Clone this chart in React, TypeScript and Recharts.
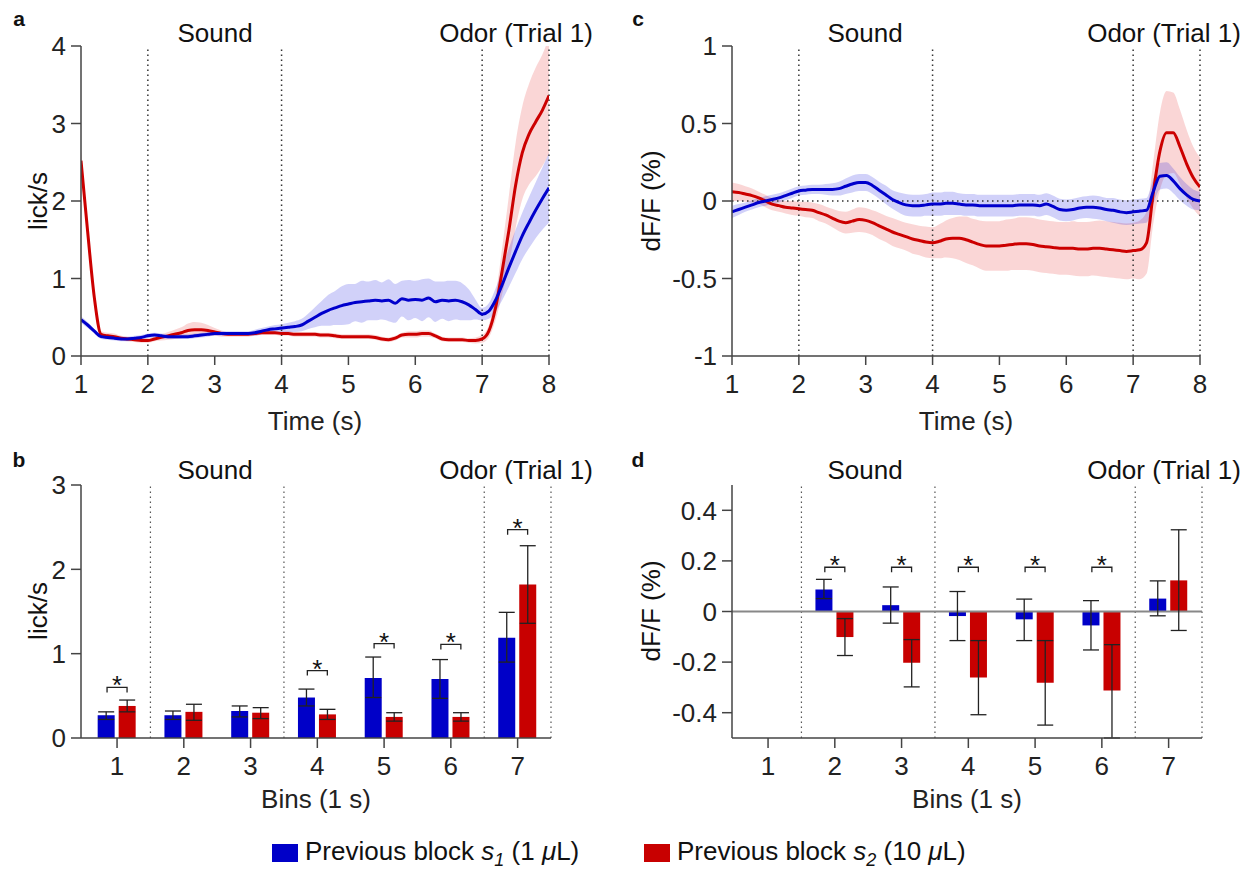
import React from 'react';
import {
  ComposedChart, Line, Area, Bar, ErrorBar, Scatter, XAxis, YAxis, ReferenceLine,
} from 'recharts';

// ---------- Data ----------
const TIME = [1.0,1.1,1.2,1.3,1.4,1.5,1.6,1.7,1.8,1.9,2.0,2.1,2.2,2.3,2.4,2.5,2.6,2.7,2.8,2.9,3.0,3.1,3.2,3.3,3.4,3.5,3.6,3.7,3.8,3.9,4.0,4.1,4.2,4.3,4.4,4.5,4.6,4.7,4.8,4.9,5.0,5.1,5.2,5.3,5.4,5.5,5.6,5.7,5.8,5.9,6.0,6.1,6.2,6.3,6.4,6.5,6.6,6.7,6.8,6.9,7.0,7.1,7.2,7.3,7.4,7.5,7.6,7.7,7.8,7.9,8.0];

const lickRedMean = [2.52,1.60,0.75,0.28,0.26,0.25,0.23,0.22,0.21,0.20,
  0.20,0.22,0.24,0.26,0.28,0.30,0.33,0.34,0.34,0.33,
  0.31,0.29,0.28,0.28,0.28,0.28,0.29,0.30,0.30,0.30,
  0.29,0.29,0.28,0.28,0.28,0.28,0.27,0.27,0.26,0.25,
  0.25,0.25,0.25,0.25,0.24,0.22,0.21,0.23,0.27,0.28,
  0.28,0.29,0.29,0.26,0.22,0.21,0.21,0.21,0.20,0.20,
  0.22,0.32,0.62,1.10,1.62,2.20,2.62,2.86,3.02,3.17,
  3.36];
const lickRedSem = [0.15,0.10,0.06,0.04,0.04,0.04,0.03,0.03,0.03,0.03,
  0.03,0.03,0.04,0.05,0.06,0.07,0.09,0.10,0.09,0.07,
  0.05,0.04,0.03,0.03,0.03,0.03,0.03,0.03,0.03,0.03,
  0.03,0.03,0.03,0.03,0.03,0.03,0.03,0.03,0.03,0.03,
  0.03,0.03,0.03,0.03,0.03,0.03,0.03,0.03,0.03,0.04,
  0.04,0.04,0.04,0.03,0.03,0.03,0.03,0.03,0.03,0.04,
  0.05,0.08,0.16,0.30,0.45,0.55,0.60,0.65,0.70,0.72,
  0.75];
const lickBlueMean = [0.47,0.40,0.32,0.25,0.24,0.23,0.22,0.22,0.23,0.24,
  0.26,0.27,0.26,0.25,0.25,0.25,0.25,0.26,0.27,0.28,
  0.29,0.29,0.29,0.29,0.29,0.29,0.30,0.32,0.34,0.35,
  0.36,0.37,0.38,0.40,0.45,0.50,0.55,0.59,0.62,0.65,
  0.67,0.69,0.70,0.71,0.72,0.71,0.72,0.68,0.74,0.72,
  0.73,0.72,0.75,0.70,0.72,0.71,0.72,0.70,0.66,0.60,
  0.54,0.58,0.72,0.92,1.14,1.35,1.55,1.72,1.88,2.03,
  2.17];
const lickBlueSem = [0.04,0.04,0.03,0.03,0.03,0.03,0.03,0.03,0.03,0.03,
  0.03,0.03,0.03,0.03,0.03,0.03,0.03,0.03,0.03,0.03,
  0.03,0.03,0.03,0.03,0.03,0.03,0.04,0.04,0.04,0.05,
  0.05,0.06,0.07,0.08,0.10,0.13,0.16,0.20,0.22,0.25,
  0.26,0.24,0.27,0.25,0.26,0.24,0.27,0.25,0.23,0.26,
  0.24,0.27,0.25,0.26,0.24,0.26,0.25,0.24,0.20,0.13,
  0.08,0.10,0.15,0.20,0.25,0.28,0.30,0.33,0.36,0.40,
  0.45];

const dffBlueMean = [-0.07,-0.055,-0.04,-0.025,-0.01,0.00,0.01,0.02,0.035,0.05,
  0.065,0.07,0.075,0.075,0.075,0.075,0.08,0.095,0.11,0.12,
  0.12,0.10,0.07,0.04,0.01,-0.01,-0.025,-0.03,-0.03,-0.025,
  -0.02,-0.02,-0.015,-0.015,-0.02,-0.025,-0.025,-0.03,-0.03,-0.03,
  -0.03,-0.03,-0.03,-0.025,-0.025,-0.025,-0.03,-0.02,-0.035,-0.055,
  -0.06,-0.055,-0.045,-0.04,-0.04,-0.045,-0.055,-0.06,-0.07,-0.075,
  -0.07,-0.065,-0.06,0.06,0.16,0.165,0.13,0.08,0.04,0.01,
  0.00];
const dffBlueSem = [0.04,0.035,0.03,0.03,0.03,0.03,0.03,0.03,0.03,0.03,
  0.03,0.03,0.03,0.03,0.035,0.04,0.045,0.05,0.055,0.055,
  0.055,0.055,0.055,0.06,0.06,0.065,0.07,0.07,0.07,0.07,
  0.075,0.075,0.075,0.075,0.07,0.07,0.07,0.07,0.07,0.07,
  0.07,0.07,0.07,0.07,0.07,0.07,0.07,0.07,0.07,0.07,
  0.07,0.07,0.07,0.07,0.075,0.075,0.075,0.08,0.08,0.08,
  0.08,0.08,0.08,0.08,0.085,0.085,0.08,0.075,0.07,0.065,
  0.06];
const dffRedMean = [0.06,0.055,0.045,0.035,0.02,0.00,-0.02,-0.03,-0.04,-0.045,
  -0.05,-0.055,-0.06,-0.075,-0.09,-0.11,-0.13,-0.14,-0.13,-0.12,
  -0.125,-0.14,-0.16,-0.18,-0.20,-0.215,-0.23,-0.245,-0.255,-0.265,
  -0.27,-0.26,-0.245,-0.24,-0.24,-0.25,-0.265,-0.28,-0.29,-0.29,
  -0.29,-0.285,-0.28,-0.275,-0.275,-0.28,-0.29,-0.295,-0.30,-0.305,
  -0.305,-0.305,-0.31,-0.31,-0.305,-0.305,-0.31,-0.315,-0.32,-0.325,
  -0.32,-0.315,-0.27,0.05,0.32,0.44,0.44,0.35,0.24,0.15,
  0.09];
const dffRedSem = [0.06,0.055,0.05,0.045,0.04,0.04,0.04,0.04,0.04,0.045,
  0.045,0.05,0.05,0.055,0.055,0.06,0.065,0.07,0.075,0.08,
  0.08,0.08,0.085,0.085,0.09,0.09,0.09,0.095,0.095,0.1,
  0.1,0.11,0.12,0.13,0.14,0.15,0.15,0.155,0.16,0.16,
  0.16,0.165,0.165,0.17,0.17,0.17,0.17,0.17,0.17,0.17,
  0.17,0.175,0.175,0.175,0.175,0.18,0.18,0.18,0.18,0.18,
  0.18,0.19,0.2,0.2,0.25,0.27,0.26,0.24,0.22,0.2,
  0.19];

const BINS = [1, 2, 3, 4, 5, 6, 7];
const lickBinBlue = [0.27, 0.27, 0.32, 0.48, 0.71, 0.70, 1.19];
const lickBinBlueLo = [0.22, 0.22, 0.25, 0.38, 0.48, 0.47, 0.90];
const lickBinBlueHi = [0.31, 0.32, 0.38, 0.58, 0.96, 0.93, 1.49];
const lickBinRed = [0.38, 0.31, 0.30, 0.28, 0.25, 0.25, 1.82];
const lickBinRedLo = [0.31, 0.21, 0.23, 0.22, 0.20, 0.20, 1.36];
const lickBinRedHi = [0.45, 0.40, 0.36, 0.34, 0.30, 0.30, 2.28];
const lickSigBins = [1, 4, 5, 6, 7];
const lickSigLevels = [0.6, 0.8, 1.12, 1.11, 2.47];

const dffBinBlue = [0, 0.087, 0.025, -0.018, -0.031, -0.055, 0.051];
const dffBinBlueLo = [0, 0.051, -0.046, -0.115, -0.115, -0.152, -0.017];
const dffBinBlueHi = [0, 0.127, 0.097, 0.079, 0.049, 0.043, 0.121];
const dffBinRed = [0, -0.101, -0.203, -0.261, -0.282, -0.312, 0.123];
const dffBinRedLo = [0, -0.174, -0.298, -0.408, -0.449, -0.5, -0.075];
const dffBinRedHi = [0, -0.028, -0.111, -0.115, -0.115, -0.131, 0.323];
const dffSigBins = [2, 3, 4, 5, 6];
const dffSigLevels = [0.175, 0.175, 0.175, 0.175, 0.175];

const TIME_TICKS = [1, 2, 3, 4, 5, 6, 7, 8];
const EVENT_LINES = [2, 4, 7, 8];
const BIN_LINES = [1.5, 3.5, 6.5, 7.5];
const LICK_TICKS = [0, 1, 2, 3, 4];
const DFF_TICKS = [-1, -0.5, 0, 0.5, 1];
const LICKBIN_TICKS = [0, 1, 2, 3];
const DFFBIN_TICKS = [-0.4, -0.2, 0, 0.2, 0.4];

// ---------- Styles ----------
const FONT = "'Liberation Sans', Arial, Helvetica, sans-serif";
const BLUE = '#0000cc';
const RED = '#cc0000';
const AXIS = '#444';
const TICK = { fontSize: 26, fill: '#222', fontFamily: FONT };

const buildSeries = (bm: number[], bs: number[], rm: number[], rs: number[]) =>
  TIME.map((t, i) => ({
    t,
    blue: bm[i],
    red: rm[i],
    blueBand: [bm[i] - bs[i], bm[i] + bs[i]],
    redBand: [rm[i] - rs[i], rm[i] + rs[i]],
  }));

const buildBins = (b: number[], bl: number[], bh: number[], r: number[], rl: number[], rh: number[]) =>
  BINS.map((bin, i) => ({
    bin,
    blue: b[i],
    red: r[i],
    blueErr: [b[i] - bl[i], bh[i] - b[i]],
    redErr: [r[i] - rl[i], rh[i] - r[i]],
  }));

const lickSeries = buildSeries(lickBlueMean, lickBlueSem, lickRedMean, lickRedSem);
const dffSeries = buildSeries(dffBlueMean, dffBlueSem, dffRedMean, dffRedSem);
const lickBins = buildBins(lickBinBlue, lickBinBlueLo, lickBinBlueHi, lickBinRed, lickBinRedLo, lickBinRedHi);
const dffBins = buildBins(dffBinBlue, dffBinBlueLo, dffBinBlueHi, dffBinRed, dffBinRedLo, dffBinRedHi);
const lickSig = lickSigBins.map((bin, i) => ({ bin, y: lickSigLevels[i] }));
const dffSig = dffSigBins.map((bin, i) => ({ bin, y: dffSigLevels[i] }));

const SigMark = (props: any) => {
  const { cx, cy } = props;
  if (cx == null || cy == null) return <g />;
  const hw = 10;
  return (
    <g>
      <path d={`M${cx - hw},${cy + 5} L${cx - hw},${cy} L${cx + hw},${cy} L${cx + hw},${cy + 5}`}
        stroke="#222" strokeWidth={1.3} fill="none" />
      <text x={cx} y={cy + 7} textAnchor="middle" fontSize={26} fontFamily={FONT} fill="#111">*</text>
    </g>
  );
};

const Txt = ({ x, y, children, size = 26, rotate = false, bold = false }: any) => (
  <div style={{
    position: 'absolute', left: x, top: y, whiteSpace: 'nowrap',
    transform: `translate(-50%, -50%)${rotate ? ' rotate(-90deg)' : ''}`,
    fontSize: size, fontWeight: bold ? 'bold' : 'normal', color: '#111', lineHeight: 1,
  }}>{children}</div>
);

const dotted = { stroke: '#333', strokeWidth: 1.5, strokeDasharray: '1.5 3.5' };

const TimePanel = ({ data, left, yDomain, yTicks, yWidth, zeroLine }: any) => (
  <div style={{ position: 'absolute', left, top: 0 }}>
    <ComposedChart width={yWidth + 468 + 51} height={440} data={data}
      margin={{ top: 46, right: 51, bottom: 0, left: 0 }}>
      <XAxis dataKey="t" type="number" domain={[1, 8]} ticks={TIME_TICKS} interval={0}
        allowDataOverflow height={84} tickSize={9} tickMargin={10}
        stroke={AXIS} strokeWidth={1.5} tick={TICK} tickLine={{ stroke: AXIS, strokeWidth: 1.5 }}
        label={{ value: 'Time (s)', position: 'insideBottom', offset: 10, fontSize: 26, fill: '#222' }} />
      <YAxis type="number" domain={yDomain} ticks={yTicks} interval={0} allowDataOverflow
        width={yWidth} tickSize={10} tickMargin={5} stroke={AXIS} strokeWidth={1.5} tick={TICK}
        tickLine={{ stroke: AXIS, strokeWidth: 1.5 }} />
      {EVENT_LINES.map((x) => <ReferenceLine key={x} x={x} {...dotted} />)}
      {zeroLine && <ReferenceLine y={0} {...dotted} />}
      <Area dataKey="redBand" type="monotone" stroke="none" fill="#e00000" fillOpacity={0.16}
        isAnimationActive={false} />
      <Area dataKey="blueBand" type="monotone" stroke="none" fill="#0000e0" fillOpacity={0.18}
        isAnimationActive={false} />
      <Line dataKey="red" type="monotone" stroke={RED} strokeWidth={3} dot={false} isAnimationActive={false} />
      <Line dataKey="blue" type="monotone" stroke={BLUE} strokeWidth={3} dot={false} isAnimationActive={false} />
    </ComposedChart>
  </div>
);

const BinPanel = ({ data, sig, left, yDomain, yTicks, yWidth, zeroLine }: any) => (
  <div style={{ position: 'absolute', left, top: 440 }}>
    <ComposedChart width={yWidth + 470 + 49} height={380} data={data}
      margin={{ top: 45, right: 49, bottom: 0, left: 0 }}>
      <XAxis dataKey="bin" type="number" domain={[0.46, 7.5]} ticks={BINS} interval={0}
        allowDataOverflow height={82} tickSize={10} tickMargin={9}
        stroke={AXIS} strokeWidth={1.5} tick={TICK} tickLine={{ stroke: AXIS, strokeWidth: 1.5 }}
        label={{ value: 'Bins (1 s)', position: 'insideBottom', offset: 12, fontSize: 26, fill: '#222' }} />
      <YAxis type="number" domain={yDomain} ticks={yTicks} interval={0} allowDataOverflow
        width={yWidth} tickSize={10} tickMargin={5} stroke={AXIS} strokeWidth={1.5} tick={TICK}
        tickLine={{ stroke: AXIS, strokeWidth: 1.5 }} />
      {BIN_LINES.map((x) => <ReferenceLine key={x} x={x} {...dotted} strokeWidth={1.2} stroke="#555" />)}
      {zeroLine && <ReferenceLine y={0} stroke="#888" strokeWidth={1.8} />}
      <Bar dataKey="blue" fill="#0000c8" barSize={17} isAnimationActive={false}>
        <ErrorBar dataKey="blueErr" width={8} stroke="#222" strokeWidth={1.3} direction="y" />
      </Bar>
      <Bar dataKey="red" fill="#c80000" barSize={17} isAnimationActive={false}>
        <ErrorBar dataKey="redErr" width={8} stroke="#222" strokeWidth={1.3} direction="y" />
      </Bar>
      <Scatter data={sig} dataKey="y" shape={SigMark} isAnimationActive={false} />
    </ComposedChart>
  </div>
);

const subStyle: React.CSSProperties = { fontSize: 18, fontStyle: 'italic', position: 'relative', top: 6 };

export default function App() {
  return (
    <div style={{ position: 'absolute', left: 0, top: 0, width: 1249, height: 869, background: '#fff',
      fontFamily: FONT, color: '#111', overflow: 'hidden' }}>
      <TimePanel data={lickSeries} left={0} yDomain={[0, 4]} yTicks={LICK_TICKS} yWidth={81} />
      <TimePanel data={dffSeries} left={620} yDomain={[-1, 1]} yTicks={DFF_TICKS} yWidth={112} zeroLine />
      <BinPanel data={lickBins} sig={lickSig} left={0} yDomain={[0, 3]} yTicks={LICKBIN_TICKS} yWidth={81} />
      <BinPanel data={dffBins} sig={dffSig} left={620} yDomain={[-0.5, 0.5]} yTicks={DFFBIN_TICKS} yWidth={112} zeroLine />

      <Txt x={19} y={18} size={21} bold>a</Txt>
      <Txt x={19} y={459} size={21} bold>b</Txt>
      <Txt x={638} y={18} size={21} bold>c</Txt>
      <Txt x={638} y={459} size={21} bold>d</Txt>

      <Txt x={215} y={33}>Sound</Txt>
      <Txt x={516} y={33}>Odor (Trial 1)</Txt>
      <Txt x={865} y={33}>Sound</Txt>
      <Txt x={1164} y={33}>Odor (Trial 1)</Txt>
      <Txt x={215} y={470}>Sound</Txt>
      <Txt x={516} y={470}>Odor (Trial 1)</Txt>
      <Txt x={865} y={470}>Sound</Txt>
      <Txt x={1164} y={470}>Odor (Trial 1)</Txt>

      <Txt x={38} y={201} rotate>lick/s</Txt>
      <Txt x={38} y={611} rotate>lick/s</Txt>
      <Txt x={651} y={201} rotate>dF/F (%)</Txt>
      <Txt x={651} y={611} rotate>dF/F (%)</Txt>

      <div style={{ position: 'absolute', left: 272, top: 836, display: 'flex', alignItems: 'center',
        fontSize: 26, lineHeight: '30px', whiteSpace: 'nowrap' }}>
        <span style={{ display: 'inline-block', width: 26, height: 18, background: '#0000c8', marginRight: 7 }} />
        <span>Previous block <i>s</i><span style={subStyle}>1</span> (1 <i>μ</i>L)</span>
      </div>
      <div style={{ position: 'absolute', left: 644, top: 836, display: 'flex', alignItems: 'center',
        fontSize: 26, lineHeight: '30px', whiteSpace: 'nowrap' }}>
        <span style={{ display: 'inline-block', width: 26, height: 18, background: '#c80000', marginRight: 7 }} />
        <span>Previous block <i>s</i><span style={subStyle}>2</span> (10 <i>μ</i>L)</span>
      </div>
    </div>
  );
}
